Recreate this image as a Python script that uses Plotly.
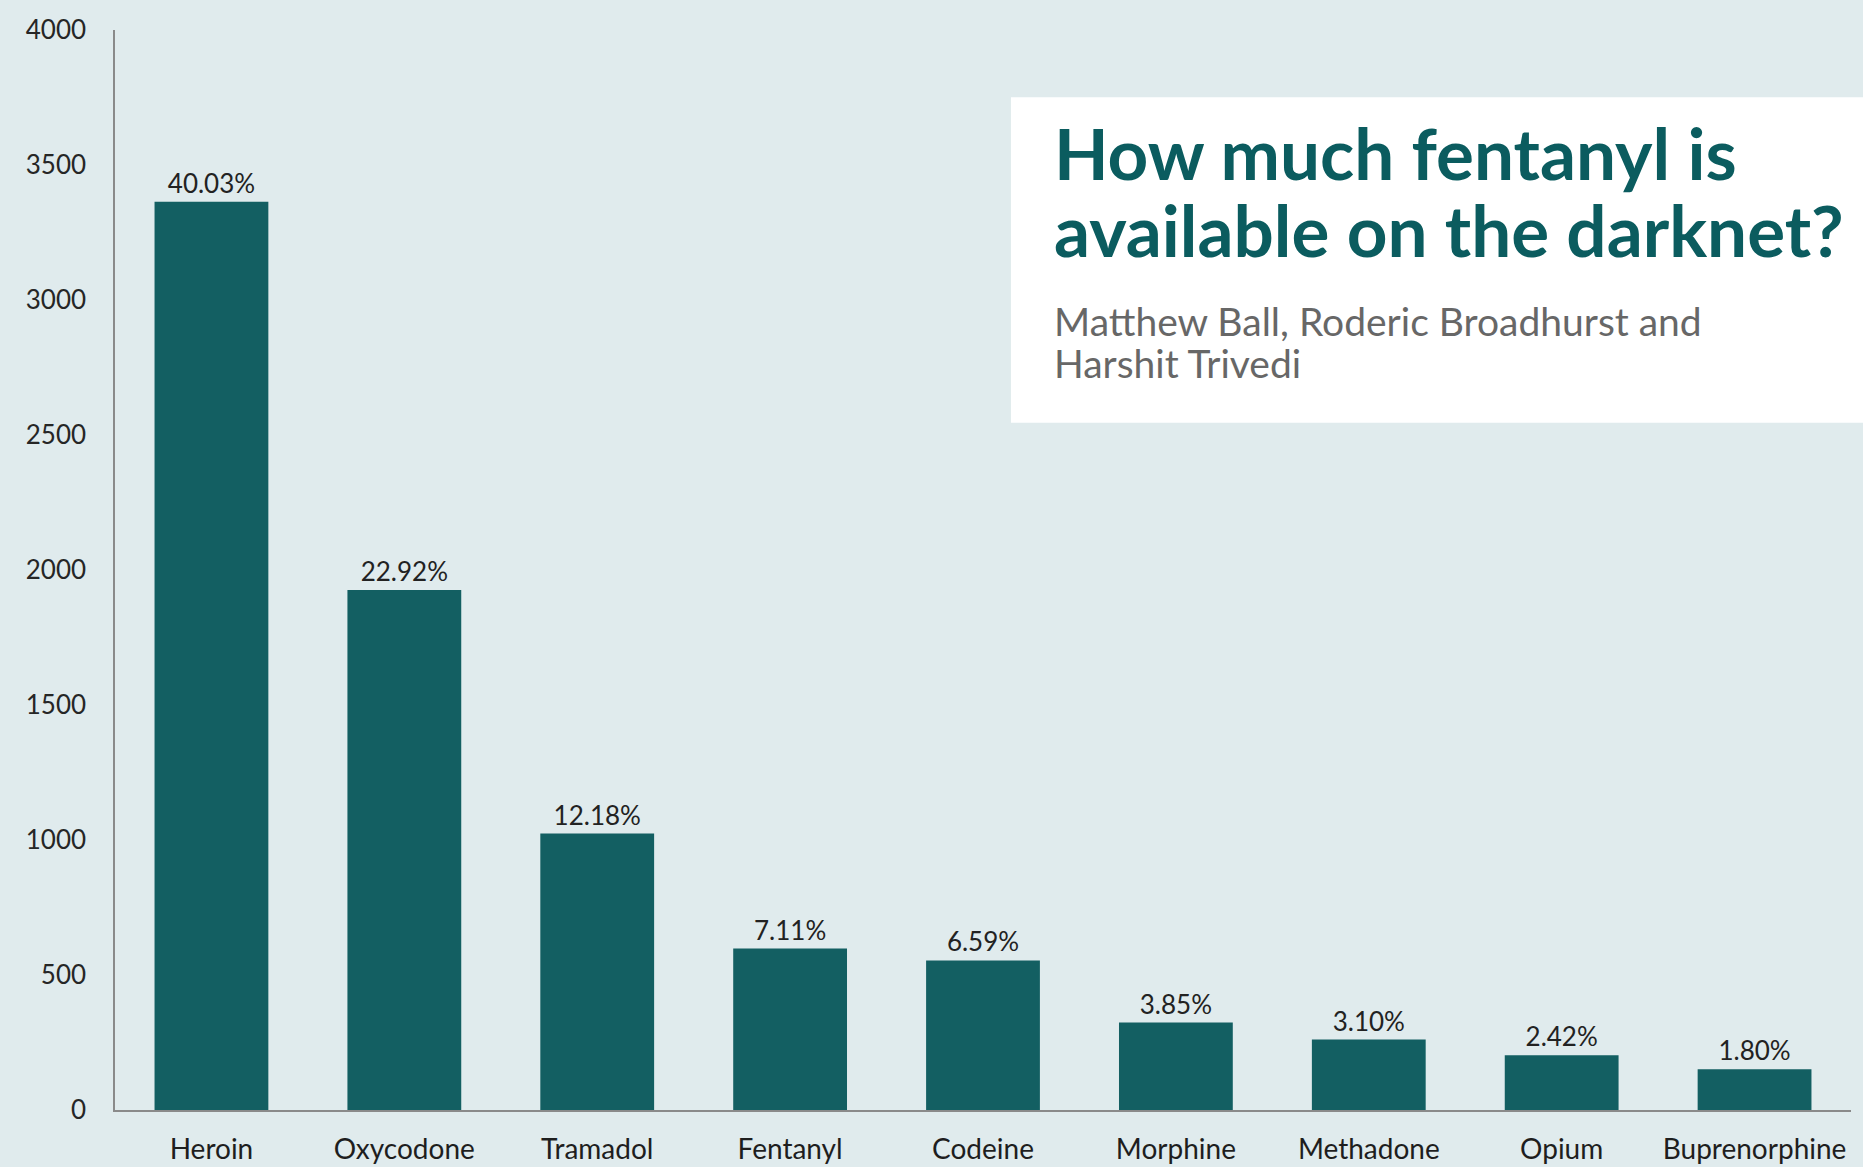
import plotly.graph_objects as go

# Opioid listings found on darknet markets
drugs = ["Heroin", "Oxycodone", "Tramadol", "Fentanyl", "Codeine",
         "Morphine", "Methadone", "Opium", "Buprenorphine"]
listings = [3364, 1926, 1024, 598, 554, 324, 261, 203, 151]
shares = ["40.03%", "22.92%", "12.18%", "7.11%", "6.59%",
          "3.85%", "3.10%", "2.42%", "1.80%"]

y_ticks = [0, 500, 1000, 1500, 2000, 2500, 3000, 3500, 4000]

title_lines = ["How much fentanyl is", "available on the darknet?"]
byline_lines = ["Matthew Ball, Roderic Broadhurst and", "Harshit Trivedi"]

BG = "#e0ebed"
BAR = "#135f62"
TEAL = "#0b5c5f"
FONT = "Lato"

fig = go.Figure(
    go.Bar(
        x=drugs,
        y=listings,
        text=shares,
        textposition="outside",
        constraintext="none",
        cliponaxis=False,
        marker=dict(color=BAR, line=dict(width=0)),
        textfont=dict(family=FONT, size=26, color="#222222"),
        hoverinfo="skip",
    )
)

fig.update_layout(
    width=1863,
    height=1167,
    margin=dict(l=115, r=12, t=30, b=57),
    paper_bgcolor=BG,
    plot_bgcolor=BG,
    bargap=0.41,
    showlegend=False,
    font=dict(family=FONT, color="#262626"),
)

fig.update_yaxes(
    range=[0, 4000],
    tickvals=y_ticks,
    ticktext=[str(v) for v in y_ticks],
    showgrid=False,
    zeroline=False,
    showline=True,
    linecolor="#8a8a8a",
    linewidth=1.5,
    ticks="",
    ticklabelstandoff=22,
    automargin=False,
    tickfont=dict(family=FONT, size=26, color="#262626"),
)

fig.update_xaxes(
    showgrid=False,
    showline=True,
    linecolor="#8a8a8a",
    linewidth=1.5,
    ticks="",
    ticklabelstandoff=14,
    automargin=False,
    tickfont=dict(family=FONT, size=28, color="#1e1e1e"),
)

# White title panel in the upper right
fig.add_shape(
    type="rect", xref="paper", yref="paper",
    x0=0.5161, x1=1.01, y0=0.6364, y1=0.9377,
    fillcolor="white", line=dict(width=0), layer="above",
)

for text, y in zip(title_lines, [0.8865, 0.8152]):
    fig.add_annotation(
        text=f"<b>{text}</b>", xref="paper", yref="paper",
        x=0.5395, y=y, xanchor="left", yanchor="middle", showarrow=False,
        font=dict(family=FONT, size=71, color=TEAL),
    )

for text, y in zip(byline_lines, [0.7310, 0.6920]):
    fig.add_annotation(
        text=text, xref="paper", yref="paper",
        x=0.5395, y=y, xanchor="left", yanchor="middle", showarrow=False,
        font=dict(family=FONT, size=39, color="#676767"),
    )

fig.write_html("out.html")
